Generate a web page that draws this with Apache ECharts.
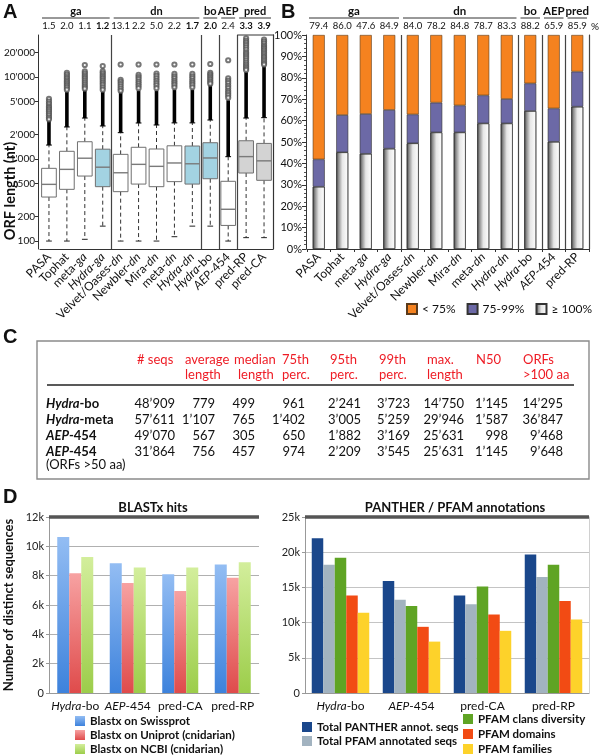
<!DOCTYPE html>
<html><head><meta charset="utf-8">
<script src="https://cdn.jsdelivr.net/npm/echarts@6/dist/echarts.min.js"></script>
<style>html,body{margin:0;padding:0;background:#fff}#c{width:600px;height:756px}</style>
</head><body><div id="c"></div>
<script>
// ---------- Panel A: ORF length box plots ----------
const orfCategories = ['PASA','Tophat','meta-ga','Hydra-ga','Velvet/Oases-dn','Newbler-dn','Mira-dn','meta-dn','Hydra-dn','Hydra-bo','AEP-454','pred-RP','pred-CA'];
const orfRedundancy = ['1.5','2.0','1.1','1.2','13.1','2.2','5.0','2.2','1.7','2.0','2.4','3.3','3.9'];
const orfRedundancyBoldIdx = [3, 8, 9, 11, 12];
const orfGroups = [['ga',0,3],['dn',4,8],['bo',9,9],['AEP',10,10],['pred',11,12]];
const orfSeparators = [4, 9, 10, 11];
const orfYTicks = [100, 200, 500, 1000, 2000, 5000, 10000, 20000];
const orfLowWhisker  = [100, 100, 105, 152, 100, 100, 100, 113, 152, 152, 100, 110, 110];
const orfQ1          = [344, 427, 620, 460, 400, 495, 460, 530, 495, 575, 155, 675, 550];
const orfMedian      = [491, 748, 1023, 795, 680, 861, 814, 895, 875, 1030, 244, 1070, 950];
const orfQ3          = [770, 1242, 1625, 1318, 1140, 1390, 1325, 1450, 1440, 1580, 535, 1670, 1550];
const orfHighWhisker = [1480, 2460, 3160, 2530, 2100, 2750, 2600, 2760, 2760, 2990, 1070, 3160, 3200];
const orfDenseTop    = [3000, 6600, 6900, 6600, 6500, 6800, 6800, 7000, 7000, 8000, 5200, 11500, 13500];
const orfOutliers = [
  [5400, 5000, 4700, 4400, 4200, 4000, 3800, 3600, 3400, 3200, 3050],
  [11200, 10600, 10000, 9500, 9000, 8600, 8200, 7800, 7400, 7000],
  [14000, 11700, 11100, 10500, 10000, 9500, 9000, 8500, 8000, 7600, 7200],
  [13600, 11700, 11100, 10500, 10000, 9500, 9000, 8500, 8000, 7500, 7000],
  [14200, 9200, 8700, 8200, 7700, 7200, 6800],
  [14200, 10600, 10000, 9400, 8800, 8300, 7800, 7300],
  [14200, 11000, 10300, 9600, 9000, 8400, 7900, 7300],
  [14200, 10900, 10200, 9600, 9000, 8500, 8000, 7500],
  [14200, 10900, 10200, 9600, 9000, 8500, 8000, 7500],
  [14400, 11200, 10700, 10200, 9700, 9200, 8700, 8300],
  [16000, 9600, 9000, 8400, 7800, 7300, 6800, 6400, 6000, 5600],
  [29500, 27500, 26000, 24500, 23000, 21500, 20000, 19000, 18000, 17000, 16000, 15000, 14200, 13500, 12800, 12200],
  [28500, 27000, 25500, 24000, 23000, 22000, 21000, 20000, 19000, 18000, 17200, 16400, 15600, 14800, 14200]
];

// ---------- Panel B: ORF coverage ----------
const covCategories = ['PASA','Tophat','meta-ga','Hydra-ga','Velvet/Oases-dn','Newbler-dn','Mira-dn','meta-dn','Hydra-dn','Hydra-bo','AEP-454','pred-RP'];
const covPercent = ['79.4','86.0','47.6','84.9','84.0','78.2','84.8','78.7','83.3','88.2','65.9','85.9'];
const covGroups = [['ga',0,3],['dn',4,8],['bo',9,9],['AEP',10,10],['pred',11,11]];
const covSeparators = [4, 9, 10, 11];
const covFull    = [29.1, 45.2, 44.5, 46.9, 49.4, 54.5, 54.5, 58.7, 58.7, 64.5, 50.1, 66.5];
const covPartial = [12.8, 17.4, 18.6, 18.1, 13.5, 13.9, 12.6, 13.1, 11.4, 12.9, 15.6, 16.4];
const covShort   = [58.1, 37.4, 36.9, 35.0, 37.1, 31.6, 32.9, 28.2, 29.9, 22.6, 34.3, 17.1];

// ---------- Panel C: table ----------
const tableHeaders = [['# seqs',''],['average','length'],['median','length'],['75th','perc.'],['95th','perc.'],['99th','perc.'],['max.','length'],['N50',''],['ORFs','>100 aa']];
const tableRowNames = ['Hydra-bo','Hydra-meta','AEP-454','AEP-454'];
const tableSeqs    = [48909, 57611, 49070, 31864];
const tableAverage = [779, 1107, 567, 756];
const tableMedian  = [499, 765, 305, 457];
const tableP75     = [961, 1402, 650, 974];
const tableP95     = [2241, 3005, 1882, 2209];
const tableP99     = [3723, 5259, 3169, 3545];
const tableMax     = [14750, 29946, 25631, 25631];
const tableN50     = [1145, 1587, 998, 1145];
const tableOrfs100 = [14295, 36847, 9468, 9648];

// ---------- Panel D ----------
const blastCategories = ['Hydra-bo','AEP-454','pred-CA','pred-RP'];
const blastSwissprot = [10630, 8850, 8100, 8760];
const blastUniprot   = [8170, 7500, 6960, 7850];
const blastNcbi      = [9280, 8550, 8550, 8920];
const annotCategories = ['Hydra-bo','AEP-454','pred-CA','pred-RP'];
const pantherTotal = [21980, 15900, 13860, 19660];
const pfamTotal    = [18200, 13250, 12600, 16470];
const pfamClans    = [19200, 12350, 15140, 18200];
const pfamDomains  = [13860, 9400, 11150, 13060];
const pfamFamilies = [11400, 7300, 8830, 10440];

// ---------- helpers ----------
const FONT = 'Lato, "Open Sans", sans-serif';
function richLabel(name){
  if (name.startsWith('Hydra-')) {
    const s = name.slice(6);
    return '{i|Hydra}{n|-}' + ((s === 'ga' || s === 'dn') ? '{i|' + s + '}' : '{n|' + s + '}');
  }
  if (name.startsWith('AEP-')) return '{i|AEP}{n|-' + name.slice(4) + '}';
  const m = name.match(/^(.*-)(ga|dn)$/);
  if (m) return '{n|' + m[1] + '}{i|' + m[2] + '}';
  return '{n|' + name + '}';
}
function catRich(size){
  return { n:{fontFamily:FONT,fontSize:size,color:'#111'}, i:{fontFamily:FONT,fontSize:size,fontStyle:'italic',color:'#111'} };
}
function thou(n, sep){ return String(n).replace(/\B(?=(\d{3})+(?!\d))/g, sep); }
function boxFill(name){
  if (name.startsWith('Hydra')) return '#A3D3E2';
  if (name.startsWith('pred')) return '#D3D3D3';
  return '#ffffff';
}

function renderBox(params, api){
  const i = api.value(0);
  const lo = api.coord([i, api.value(1)]);
  const q1 = api.coord([i, api.value(2)]);
  const md = api.coord([i, api.value(3)]);
  const q3 = api.coord([i, api.value(4)]);
  const hi = api.coord([i, api.value(5)]);
  const band = api.size([1, 0], [i, api.value(3)])[0];
  const w = band * 0.82, cap = band * 0.32, x = lo[0];
  const dash = {stroke:'#333', lineWidth:1, lineDash:[4,3]};
  return {type:'group', children:[
    {type:'line', shape:{x1:x,y1:q1[1],x2:x,y2:lo[1]}, style:dash},
    {type:'line', shape:{x1:x,y1:q3[1],x2:x,y2:hi[1]}, style:dash},
    {type:'line', shape:{x1:x-cap/2,y1:lo[1],x2:x+cap/2,y2:lo[1]}, style:{stroke:'#222',lineWidth:1}},
    {type:'line', shape:{x1:x-cap/2,y1:hi[1],x2:x+cap/2,y2:hi[1]}, style:{stroke:'#222',lineWidth:1.2}},
    {type:'rect', shape:{x:x-w/2,y:q3[1],width:w,height:q1[1]-q3[1]}, style:{fill:boxFill(orfCategories[i]), stroke:'#707070', lineWidth:1}},
    {type:'line', shape:{x1:x-w/2,y1:md[1],x2:x+w/2,y2:md[1]}, style:{stroke:'#7a7a7a',lineWidth:1.4}}
  ]};
}
function renderDense(params, api){
  const i = api.value(0);
  const a = api.coord([i, api.value(1)]);
  const b = api.coord([i, api.value(2)]);
  return {type:'rect', shape:{x:a[0]-1.8, y:b[1], width:3.6, height:a[1]-b[1]}, style:{fill:'#000'}};
}

const fullGrad = new echarts.graphic.LinearGradient(0,0,1,0,[
  {offset:0,color:'#3c3c3c'},{offset:0.18,color:'#8a8a8a'},{offset:0.5,color:'#e6e6e6'},{offset:1,color:'#ffffff'}]);
function vGrad(top, bottom){ return new echarts.graphic.LinearGradient(0,0,0,1,[{offset:0,color:top},{offset:1,color:bottom}]); }

const sepLine = (list) => ({show:true, interval:(idx) => list.indexOf(idx) >= 0, lineStyle:{color:'#444', width:1.2}});

const outlierData = [];
orfOutliers.forEach((arr, i) => arr.forEach(v => outlierData.push([i, v])));

const legendText = {fontSize:11.5, fontWeight:'bold', color:'#111', lineHeight:12, fontFamily:FONT};

const option = {
  animation:false,
  textStyle:{fontFamily:FONT},
  grid:[
    {left:40, top:35, width:233, height:214},
    {left:307, top:35, width:282, height:214},
    {left:49, top:517, width:210, height:176},
    {left:305, top:517, width:284, height:176}
  ],
  xAxis:[
    {type:'category', gridIndex:0, data:orfCategories,
     axisLine:{lineStyle:{color:'#333'}}, axisTick:{show:false},
     axisLabel:{rotate:45, interval:0, margin:6, formatter:richLabel, rich:catRich(12)},
     splitLine:sepLine(orfSeparators)},
    {type:'category', gridIndex:0, position:'top', data:orfRedundancy,
     axisLine:{show:false}, axisTick:{show:false},
     axisLabel:{interval:0, margin:4,
       formatter:(v, idx) => orfRedundancyBoldIdx.indexOf(idx) >= 0 ? '{b|' + v + '}' : '{n|' + v + '}',
       rich:{n:{fontSize:9.5,fontFamily:FONT,color:'#111'}, b:{fontSize:9.5,fontFamily:FONT,fontWeight:'bold',color:'#111'}}}},
    {type:'category', gridIndex:1, data:covCategories,
     axisLine:{lineStyle:{color:'#333'}}, axisTick:{show:true, length:3, lineStyle:{color:'#333'}},
     axisLabel:{rotate:45, interval:0, margin:6, formatter:richLabel, rich:catRich(12)},
     splitLine:sepLine(covSeparators)},
    {type:'category', gridIndex:1, position:'top', data:covPercent,
     axisLine:{show:false}, axisTick:{show:false},
     axisLabel:{interval:0, margin:4, fontSize:9.5, color:'#111'}},
    {type:'category', gridIndex:2, data:blastCategories,
     axisLine:{lineStyle:{color:'#999'}}, axisTick:{length:4, lineStyle:{color:'#999'}},
     axisLabel:{interval:0, margin:7, formatter:richLabel, rich:catRich(12)}},
    {type:'category', gridIndex:3, data:annotCategories,
     axisLine:{lineStyle:{color:'#999'}}, axisTick:{length:4, lineStyle:{color:'#999'}},
     axisLabel:{interval:0, margin:7, formatter:richLabel, rich:catRich(12)}}
  ],
  yAxis:[
    {type:'log', logBase:10, gridIndex:0, min:80, max:32500, offset:2,
     axisLine:{show:true, lineStyle:{color:'#333'}},
     axisTick:{show:true, length:3, customValues:orfYTicks, lineStyle:{color:'#333'}},
     axisLabel:{customValues:orfYTicks, fontSize:10, margin:3, color:'#111',
       formatter:(v) => v >= 1000 ? (v/1000) + "'000" : String(v)},
     splitLine:{show:false}, minorTick:{show:false}},
    {type:'log', logBase:10, gridIndex:0, min:80, max:32500, position:'right',
     axisLine:{show:true, lineStyle:{color:'#333'}}, axisTick:{show:false}, axisLabel:{show:false}, splitLine:{show:false}},
    {type:'value', gridIndex:1, min:0, max:100, interval:10, offset:1,
     axisLine:{show:true, lineStyle:{color:'#333'}},
     axisTick:{show:true, length:4, lineStyle:{color:'#333'}},
     minorTick:{show:true, splitNumber:5, length:2, lineStyle:{color:'#555'}},
     axisLabel:{formatter:'{value}%', fontSize:11, margin:4, color:'#111'},
     splitLine:{show:false}},
    {type:'value', gridIndex:1, min:0, max:100, position:'right',
     axisLine:{show:true, lineStyle:{color:'#444'}}, axisTick:{show:false}, axisLabel:{show:false}, splitLine:{show:false}},
    {type:'value', gridIndex:2, min:0, max:12000, interval:2000,
     axisLine:{show:true, lineStyle:{color:'#999'}}, axisTick:{show:true, length:3, lineStyle:{color:'#999'}},
     axisLabel:{fontSize:11, margin:5, color:'#222', formatter:(v) => v === 0 ? '0' : (v/1000) + 'k'},
     splitLine:{lineStyle:{color:'#b0b0b0'}},
     name:'Number of distinct sequences', nameLocation:'middle', nameGap:34, nameRotate:90,
     nameTextStyle:{fontSize:13, fontWeight:'bold', color:'#111', fontFamily:FONT}},
    {type:'value', gridIndex:3, min:0, max:25000, interval:5000,
     axisLine:{show:true, lineStyle:{color:'#999'}}, axisTick:{show:true, length:3, lineStyle:{color:'#999'}},
     axisLabel:{fontSize:11, margin:5, color:'#222', formatter:(v) => v === 0 ? '0' : (v/1000) + 'k'},
     splitLine:{lineStyle:{color:'#c4c4c4'}}},
    {type:'value', gridIndex:3, min:0, max:25000, position:'right',
     axisLine:{show:true, lineStyle:{color:'#d0d0d0'}}, axisTick:{show:false}, axisLabel:{show:false}, splitLine:{show:false}}
  ],
  legend:[
    {data:['< 75%','75-99%','≥ 100%'], left:406, top:303, width:194, padding:0, itemWidth:10, itemHeight:10, itemGap:11,
     selectedMode:false, icon:'rect', textStyle:{fontSize:12, color:'#111', fontFamily:FONT}},
    {data:['Blastx on Swissprot','Blastx on Uniprot (cnidarian)','Blastx on NCBI (cnidarian)'], orient:'vertical',
     left:75, top:715, padding:0, itemWidth:10, itemHeight:10, itemGap:2, selectedMode:false, icon:'rect',
     textStyle:legendText},
    {data:['Total PANTHER annot. seqs','Total PFAM annotated seqs'], orient:'vertical',
     left:302, top:721, padding:0, itemWidth:10, itemHeight:10, itemGap:2, selectedMode:false, icon:'rect',
     textStyle:legendText},
    {data:['PFAM clans diversity','PFAM domains','PFAM families'], orient:'vertical',
     left:463, top:713, padding:0, itemWidth:10, itemHeight:10, itemGap:3, selectedMode:false, icon:'rect',
     textStyle:legendText}
  ],
  series:[
    {type:'custom', name:'box', xAxisIndex:0, yAxisIndex:0, renderItem:renderBox, silent:true, z:3,
     encode:{x:0, y:[1,2,3,4,5]},
     data:orfCategories.map((c, i) => [i, orfLowWhisker[i], orfQ1[i], orfMedian[i], orfQ3[i], orfHighWhisker[i]])},
    {type:'custom', name:'dense', xAxisIndex:0, yAxisIndex:0, renderItem:renderDense, silent:true, z:4,
     encode:{x:0, y:[1,2]},
     data:orfCategories.map((c, i) => [i, orfHighWhisker[i], orfDenseTop[i]])},
    {type:'scatter', name:'outliers', xAxisIndex:0, yAxisIndex:0, symbol:'emptyCircle', symbolSize:4.2, silent:true, z:5,
     itemStyle:{color:'#555', borderWidth:0.8}, data:outlierData},

    {type:'bar', name:'≥ 100%', stack:'cov', xAxisIndex:2, yAxisIndex:2, barWidth:12, data:covFull,
     itemStyle:{color:fullGrad, borderColor:'#333', borderWidth:0.6}},
    {type:'bar', name:'75-99%', stack:'cov', xAxisIndex:2, yAxisIndex:2, barWidth:12, data:covPartial,
     itemStyle:{color:'#6C69A6', borderColor:'#333', borderWidth:0.6}},
    {type:'bar', name:'< 75%', stack:'cov', xAxisIndex:2, yAxisIndex:2, barWidth:12, data:covShort,
     itemStyle:{color:'#F5821F', borderColor:'#5a3a1a', borderWidth:0.6}},

    {type:'bar', name:'Blastx on Swissprot', xAxisIndex:4, yAxisIndex:4, barWidth:12, barGap:'0%', data:blastSwissprot,
     itemStyle:{color:vGrad('#93bdf3','#3d82dc')},
     markLine:{silent:true, symbol:'none', label:{show:false}, lineStyle:{color:'#555', width:3.5, type:'solid'}, data:[{yAxis:12000}]}},
    {type:'bar', name:'Blastx on Uniprot (cnidarian)', xAxisIndex:4, yAxisIndex:4, barWidth:12, barGap:'0%', data:blastUniprot,
     itemStyle:{color:vGrad('#f7a2a2','#df4b4b')}},
    {type:'bar', name:'Blastx on NCBI (cnidarian)', xAxisIndex:4, yAxisIndex:4, barWidth:12, barGap:'0%', data:blastNcbi,
     itemStyle:{color:vGrad('#d3ee9c','#9ccd4a')}},

    {type:'bar', name:'Total PANTHER annot. seqs', xAxisIndex:5, yAxisIndex:5, barWidth:11.5, barGap:'0%', data:pantherTotal,
     itemStyle:{color:'#1A478B'},
     markLine:{silent:true, symbol:'none', label:{show:false}, lineStyle:{color:'#555', width:3.5, type:'solid'}, data:[{yAxis:25000}]}},
    {type:'bar', name:'Total PFAM annotated seqs', xAxisIndex:5, yAxisIndex:5, barWidth:11.5, barGap:'0%', data:pfamTotal,
     itemStyle:{color:'#A2B3C0'}},
    {type:'bar', name:'PFAM clans diversity', xAxisIndex:5, yAxisIndex:5, barWidth:11.5, barGap:'0%', data:pfamClans,
     itemStyle:{color:'#5FA424'}},
    {type:'bar', name:'PFAM domains', xAxisIndex:5, yAxisIndex:5, barWidth:11.5, barGap:'0%', data:pfamDomains,
     itemStyle:{color:'#F24B14'}},
    {type:'bar', name:'PFAM families', xAxisIndex:5, yAxisIndex:5, barWidth:11.5, barGap:'0%', data:pfamFamilies,
     itemStyle:{color:'#FDD22A'}}
  ]
};

const chart = echarts.init(document.getElementById('c'));
chart.setOption(option);

// ---------- annotations (text, headers, table) ----------
function txt(text, x, y, o){
  o = o || {};
  return {type:'text', x:x, y:y, rotation:o.rotation || 0, silent:true,
    style:{text:text, fontSize:o.size || 12, fontWeight:o.weight || 'normal', fontStyle:o.style || 'normal',
      fontFamily:o.family || FONT, fill:o.fill || '#111', align:o.align || 'left', textAlign:o.align || 'left',
      verticalAlign:'middle', textVerticalAlign:'middle', rich:o.rich}};
}
function line(x1, y1, x2, y2, stroke, w){
  return {type:'line', silent:true, shape:{x1:x1,y1:y1,x2:x2,y2:y2}, style:{stroke:stroke, lineWidth:w}};
}
const els = [];
const px = (axisIdx, i) => chart.convertToPixel({xAxisIndex:axisIdx}, i);
function groupHeader(axisIdx, groups, size){
  const band = px(axisIdx, 1) - px(axisIdx, 0);
  groups.forEach(g => {
    const xa = px(axisIdx, g[1]) - band/2, xb = px(axisIdx, g[2]) + band/2;
    els.push(txt(g[0], (xa + xb)/2, 11, {size:size, weight:'bold', align:'center'}));
    els.push(line(xa + 2, 18, xb - 2, 18, '#333', 1));
  });
  return band;
}
const bandA = groupHeader(0, orfGroups, 11);
const bandB = groupHeader(2, covGroups, 11.5);
// frame top over the "pred" group of panel A
const predStart = px(0, 11) - bandA/2;
els.push(line(predStart, 35, px(0, 12) + bandA/2 + 1, 35, '#333', 1));
// % sign after panel B numbers
els.push(txt('%', px(2, covCategories.length - 1) + bandB/2 + 2, 27, {size:10}));

// panel letters
const LET = {size:20, weight:'bold', family:'"Liberation Sans", Arial, sans-serif'};
els.push(txt('A', 3, 12, LET));
els.push(txt('B', 281, 12, LET));
els.push(txt('C', 3, 337, LET));
els.push(txt('D', 3, 497, LET));

// panel A axis name
els.push(txt('ORF length (nt)', 10, 191, {size:14.5, weight:'bold', align:'center', rotation:Math.PI/2}));

// panel D titles
els.push(txt('BLASTx hits', 153, 508, {size:13, weight:'bold', align:'center'}));
els.push(txt('PANTHER / PFAM annotations', 455, 508, {size:13, weight:'bold', align:'center'}));

// panel C table
els.push({type:'rect', silent:true, shape:{x:37, y:341, width:552, height:138}, style:{fill:'none', stroke:'#8a8a8a', lineWidth:1.4}});
const headX = [137, 185, 234, 282, 330, 379, 427, 476, 523];
tableHeaders.forEach((h, k) => {
  els.push(txt(h[0], headX[k], 360, {size:13, fill:'#EE1C25'}));
  if (h[1]) els.push(txt(h[1], k === 2 ? headX[k] + 4 : headX[k], 375, {size:13, fill:'#EE1C25'}));
});
els.push(line(47, 385, 574, 385, '#222', 1.3));
const rowY = [404, 420, 436, 452];
const colRight = [175, 215, 255, 305, 361, 410, 464, 508, 563];
const cols = [tableSeqs, tableAverage, tableMedian, tableP75, tableP95, tableP99, tableMax, tableN50, tableOrfs100];
const rowRich = {bi:{fontSize:13, fontWeight:'bold', fontStyle:'italic', fontFamily:FONT, fill:'#111'},
                 b:{fontSize:13, fontWeight:'bold', fontFamily:FONT, fill:'#111'}};
tableRowNames.forEach((name, r) => {
  const p = name.split('-');
  els.push(txt('{bi|' + p[0] + '}{b|-' + p[1] + '}', 46, rowY[r], {size:13, rich:rowRich}));
  cols.forEach((col, k) => els.push(txt(thou(col[r], '\u2019'), colRight[k], rowY[r], {size:13, align:'right'})));
});
els.push(txt('(ORFs >50 aa)', 46, 465, {size:13}));

chart.setOption({graphic:{elements:els}});
</script>
</body></html>
